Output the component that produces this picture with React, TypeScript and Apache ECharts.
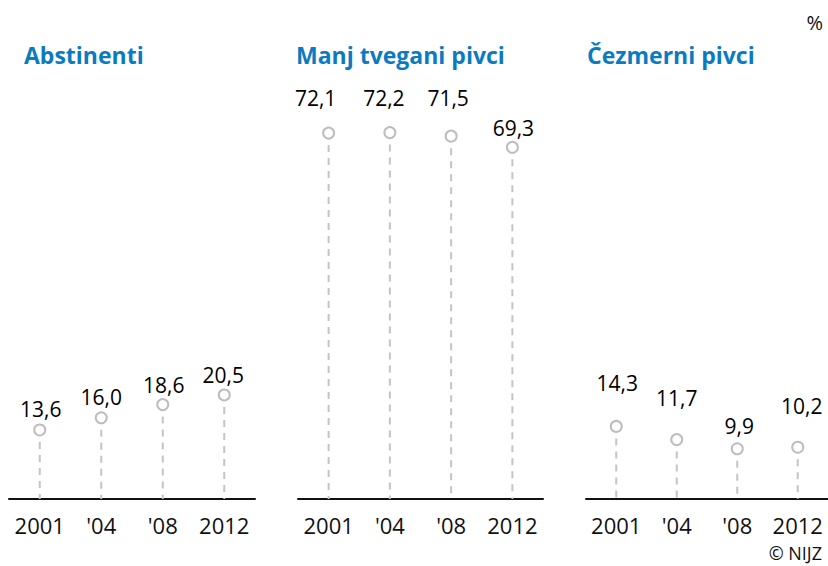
import React, { useEffect, useRef } from "react";
import * as echarts from "echarts";

const years = ["2001", "'04", "'08", "2012"];
const titles = ["Abstinenti", "Manj tvegani pivci", "Čezmerni pivci"];
const abstinenti = [13.6, 16.0, 18.6, 20.5];
const manjTvegani = [72.1, 72.2, 71.5, 69.3];
const cezmerni = [14.3, 11.7, 9.9, 10.2];
const panels = [abstinenti, manjTvegani, cezmerni];

// label placement tweaks (style, not data)
const labelOffsets = [
  [[1, -21], [0, -21], [1, -20], [-1, -20]],
  [[-13, -35], [-6, -35], [-3, -38], [1, -19]],
  [[1, -43], [0, -42], [2, -23], [4, -41]],
];
const gridBoxes = [
  { left: 9, width: 246 },
  { left: 298, width: 245 },
  { left: 586, width: 242 },
];
const titleX = [24, 296, 587];

const FONT = "'Open Sans', 'Noto Sans', sans-serif";

export default function App() {
  const ref = useRef<HTMLDivElement>(null);
  useEffect(() => {
    if (!ref.current) return;
    const chart = echarts.init(ref.current, null, { renderer: "svg" });
    const grids = gridBoxes.map((g) => ({ left: g.left, width: g.width, top: 93, bottom: 67 }));
    const xAxes = gridBoxes.map((_, i) => ({
      type: "category",
      gridIndex: i,
      data: years,
      boundaryGap: true,
      axisTick: { show: false },
      axisLine: { lineStyle: { color: "#111", width: 2 } },
      axisLabel: { interval: 0, fontSize: 22, color: "#111", margin: 15, fontFamily: FONT },
    }));
    const yAxes = gridBoxes.map((_, i) => ({
      type: "value",
      gridIndex: i,
      min: 0,
      max: 80,
      show: false,
      splitLine: { show: false },
    }));
    const series: any[] = [];
    panels.forEach((vals, i) => {
      series.push({
        type: "custom",
        xAxisIndex: i,
        yAxisIndex: i,
        z: 1,
        data: vals.map((v, j) => [j, v]),
        renderItem: (params: any, api: any) => {
          const p = api.coord([api.value(0), api.value(1)]);
          const b = api.coord([api.value(0), 0]);
          return {
            type: "line",
            shape: { x1: p[0], y1: p[1] + 12, x2: b[0], y2: b[1] },
            style: { stroke: "#c4c4c4", lineWidth: 2, lineDash: [7, 6] },
          };
        },
      });
      series.push({
        type: "scatter",
        xAxisIndex: i,
        yAxisIndex: i,
        z: 3,
        symbol: "circle",
        symbolSize: 11,
        itemStyle: { color: "#ffffff", borderColor: "#bdbdbd", borderWidth: 2, opacity: 1 },
        label: {
          show: true,
          position: "inside",
          fontSize: 21,
          color: "#000",
          opacity: 1,
          textBorderWidth: 0,
          fontFamily: FONT,
          formatter: (p: any) => Number(p.value[1]).toFixed(1).replace(".", ","),
        },
        emphasis: { disabled: true },
        data: vals.map((v, j) => ({
          value: [j, v],
          label: { offset: labelOffsets[i][j] },
        })),
      });
    });
    const graphic: any[] = titles.map((t, i) => ({
      type: "text",
      x: titleX[i],
      y: 55,
      style: {
        text: t,
        font: `bold 23px ${FONT}`,
        fill: "#0B7BC1",
        verticalAlign: "middle",
        align: "left",
      },
    }));
    graphic.push({
      type: "text",
      x: 823,
      y: 22,
      style: { text: "%", font: `20px ${FONT}`, fill: "#111", align: "right", verticalAlign: "middle" },
    });
    graphic.push({
      type: "text",
      x: 822,
      y: 553,
      style: { text: "© NIJZ", font: `18px ${FONT}`, fill: "#111", align: "right", verticalAlign: "middle" },
    });
    chart.setOption({
      animation: false,
      backgroundColor: "#ffffff",
      grid: grids,
      xAxis: xAxes,
      yAxis: yAxes,
      series,
      graphic,
    });
    return () => chart.dispose();
  }, []);
  return (
    <div
      ref={ref}
      style={{ position: "fixed", left: 0, top: 0, width: 828, height: 566, background: "#fff" }}
    />
  );
}
